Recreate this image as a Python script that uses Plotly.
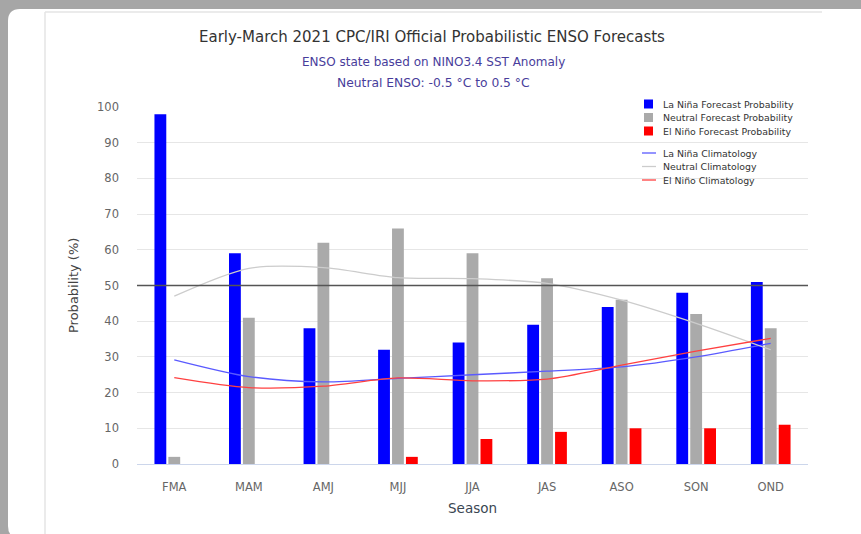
import plotly.graph_objects as go

seasons = ["FMA", "MAM", "AMJ", "MJJ", "JJA", "JAS", "ASO", "SON", "OND"]
lanina_prob = [98, 59, 38, 32, 34, 39, 44, 48, 51]
neutral_prob = [2, 41, 62, 66, 59, 52, 46, 42, 38]
elnino_prob = [0, 0, 0, 2, 7, 9, 10, 10, 11]
lanina_clim = [29.2, 24.5, 23.0, 24.0, 25.0, 26.0, 27.2, 30.0, 33.8]
neutral_clim = [47.0, 54.8, 55.0, 52.2, 51.9, 50.6, 45.9, 39.4, 32.0]
elnino_clim = [24.2, 21.4, 21.8, 24.1, 23.3, 23.8, 27.7, 31.6, 35.2]
y_ticks = [0, 10, 20, 30, 40, 50, 60, 70, 80, 90, 100]

W, H = 861, 534
L, R, T, B = 137, 53, 107, 70
PW, PH = W - L - R, H - T - B

def px(x):
    return (x - L) / PW

def py(y):
    return (H - B - y) / PH

FONT = "DejaVu Sans"
BLUE, GREY, RED = "#0000ff", "#aaaaaa", "#ff0000"

fig = go.Figure()
fig.add_trace(go.Bar(x=seasons, y=lanina_prob, name="La Niña Forecast Probability",
                     marker=dict(color=BLUE, line=dict(width=0))))
fig.add_trace(go.Bar(x=seasons, y=neutral_prob, name="Neutral Forecast Probability",
                     marker=dict(color=GREY, line=dict(width=0))))
fig.add_trace(go.Bar(x=seasons, y=elnino_prob, name="El Niño Forecast Probability",
                     marker=dict(color=RED, line=dict(width=0))))
fig.add_trace(go.Scatter(x=seasons, y=lanina_clim, mode="lines", name="La Niña Climatology",
                         line=dict(color="#5a5aff", width=1.3, shape="spline", smoothing=0.8)))
fig.add_trace(go.Scatter(x=seasons, y=neutral_clim, mode="lines", name="Neutral Climatology",
                         line=dict(color="#cccccc", width=1.3, shape="spline", smoothing=0.8)))
fig.add_trace(go.Scatter(x=seasons, y=elnino_clim, mode="lines", name="El Niño Climatology",
                         line=dict(color="#ff4040", width=1.3, shape="spline", smoothing=0.8)))

shapes = []
# white rounded panel
x0, y0, x1, y1, r = 8, 9, 880, 538, 12
path = (f"M {px(x0)},{py(y0 + r)} Q {px(x0)},{py(y0)} {px(x0 + r)},{py(y0)} "
        f"L {px(x1)},{py(y0)} L {px(x1)},{py(y1)} L {px(x0 + r)},{py(y1)} "
        f"Q {px(x0)},{py(y1)} {px(x0)},{py(y1 - r)} Z")
shapes.append(dict(type="path", xref="paper", yref="paper", path=path,
                   fillcolor="white", line=dict(width=0), layer="below"))
# inner container borders
shapes.append(dict(type="line", xref="paper", yref="paper", x0=px(45), x1=px(45), y0=py(12), y1=py(540),
                   line=dict(color="#e4e4e4", width=1.5), layer="below"))
shapes.append(dict(type="line", xref="paper", yref="paper", x0=px(45), x1=px(822), y0=py(12), y1=py(12),
                   line=dict(color="#e4e4e4", width=1.5), layer="below"))
# 50% reference line
shapes.append(dict(type="line", xref="paper", yref="y", x0=0, x1=1, y0=50, y1=50,
                   line=dict(color="#555555", width=1.3), layer="above"))

annotations = []
legend_items = [
    ("rect", BLUE, "La Niña Forecast Probability", 104),
    ("rect", GREY, "Neutral Forecast Probability", 117.5),
    ("rect", RED, "El Niño Forecast Probability", 131),
    ("line", "#5a5aff", "La Niña Climatology", 153),
    ("line", "#cccccc", "Neutral Climatology", 166.5),
    ("line", "#ff4040", "El Niño Climatology", 180),
]
for kind, col, label, yc in legend_items:
    if kind == "rect":
        shapes.append(dict(type="rect", xref="paper", yref="paper", x0=px(644), x1=px(653),
                           y0=py(yc + 4.5), y1=py(yc - 4.5), fillcolor=col, line=dict(width=0)))
    else:
        shapes.append(dict(type="line", xref="paper", yref="paper", x0=px(642), x1=px(656),
                           y0=py(yc), y1=py(yc), line=dict(color=col, width=1.3)))
    annotations.append(dict(xref="paper", yref="paper", x=px(661), y=py(yc), text=label,
                            showarrow=False, xanchor="left", yanchor="middle",
                            font=dict(family=FONT, size=9.4, color="#333333")))

annotations += [
    dict(xref="paper", yref="paper", x=px(432), y=py(37), text="Early-March 2021 CPC/IRI Official Probabilistic ENSO Forecasts",
         showarrow=False, xanchor="center", yanchor="middle", font=dict(family=FONT, size=15, color="#333333")),
    dict(xref="paper", yref="paper", x=px(433), y=py(62), text="ENSO state based on NINO3.4 SST Anomaly",
         showarrow=False, xanchor="center", yanchor="middle", font=dict(family=FONT, size=12, color="#483d9b")),
    dict(xref="paper", yref="paper", x=px(433), y=py(83), text="Neutral ENSO: -0.5 °C to 0.5 °C",
         showarrow=False, xanchor="center", yanchor="middle", font=dict(family=FONT, size=12.3, color="#483d9b")),
    dict(xref="paper", yref="paper", x=px(73), y=py(286), text="Probability (%)", textangle=-90,
         showarrow=False, xanchor="center", yanchor="middle", font=dict(family=FONT, size=13, color="#444444")),
    dict(xref="paper", yref="paper", x=px(472), y=py(508), text="Season",
         showarrow=False, xanchor="center", yanchor="middle", font=dict(family=FONT, size=13.5, color="#3a4652")),
]

fig.update_layout(
    width=W, height=H,
    margin=dict(l=L, r=R, t=T, b=B),
    paper_bgcolor="#a6a6a6",
    plot_bgcolor="rgba(0,0,0,0)",
    barmode="group", bargap=0.44, bargroupgap=0.15,
    showlegend=False,
    shapes=shapes, annotations=annotations,
    font=dict(family=FONT, color="#666666"),
)
fig.update_xaxes(showgrid=False, showline=True, linecolor="#ccd6eb", linewidth=1,
                 tickfont=dict(family=FONT, size=11.5, color="#666666"), ticks="", ticklabelstandoff=12,
                 zeroline=False)
fig.update_yaxes(range=[0, 100], tickvals=y_ticks, showgrid=True, gridcolor="#e6e6e6", gridwidth=1,
                 zeroline=False, showline=False,
                 tickfont=dict(family=FONT, size=11.5, color="#666666"), ticks="", ticklabelstandoff=17)

fig.write_html("out.html", config={"displayModeBar": False},
               post_script="document.body.style.margin='0';document.body.style.overflow='hidden';")
